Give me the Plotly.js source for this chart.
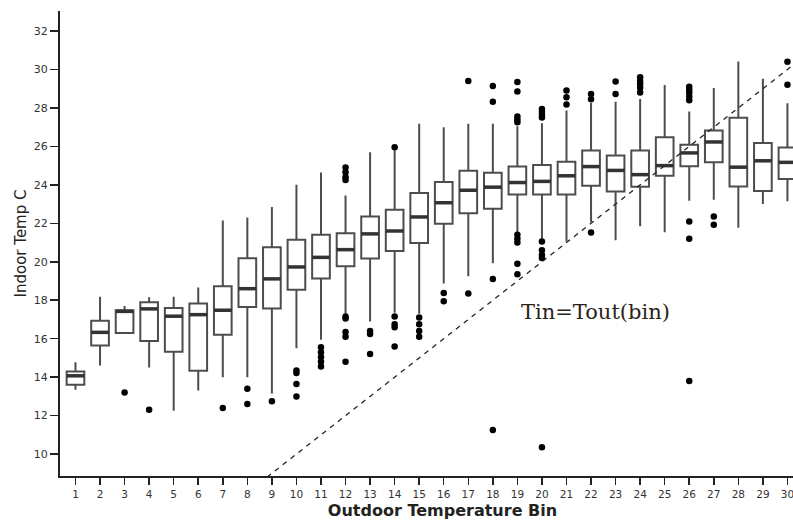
<!DOCTYPE html>
<html>
<head>
<meta charset="utf-8">
<script src="https://cdn.plot.ly/plotly-3.0.1.min.js"></script>
<style>
  html, body { margin: 0; padding: 0; background: #fff; overflow: hidden; }
  #chart { width: 825px; height: 525px; }
</style>
</head>
<body>
<div id="chart"></div>
<script>
// ---- data ----
const bins = [1,2,3,4,5,6,7,8,9,10,11,12,13,14,15,16,17,18,19,20,21,22,23,24,25,26,27,28,29,30];
const lowerFence = [13.35,14.6,16.3,14.5,12.25,13.3,14.0,14.0,13.15,15.5,15.95,17.3,16.9,17.35,17.3,18.87,19.25,19.92,21.55,21.2,21.05,22.05,21.12,21.85,21.53,23.17,23.23,21.77,23.0,23.15];
const q1 = [13.6,15.65,16.3,15.88,15.32,14.33,16.2,17.65,17.57,18.55,19.13,19.77,20.17,20.56,20.98,21.98,22.52,22.76,23.5,23.5,23.5,23.95,23.66,23.9,24.47,24.97,25.17,23.92,23.68,24.3];
const median = [14.07,16.33,17.42,17.55,17.17,17.25,17.48,18.6,19.11,19.73,20.23,20.63,21.45,21.6,22.33,23.07,23.72,23.88,24.12,24.18,24.47,24.95,24.75,24.53,25.0,25.66,26.23,24.92,25.25,25.17];
const q3 = [14.3,16.93,17.48,17.9,17.6,17.83,18.73,20.18,20.75,21.15,21.4,21.48,22.36,22.7,23.58,24.15,24.73,24.63,24.96,25.03,25.2,25.78,25.52,25.78,26.48,26.08,26.83,27.49,26.18,25.94];
const upperFence = [14.78,18.18,17.7,18.16,18.18,18.66,22.15,22.3,22.85,24.0,24.64,23.45,25.7,25.8,27.18,27.0,27.18,27.18,27.05,27.2,27.86,28.25,28.32,28.47,29.19,27.82,29.03,30.42,29.52,28.24];

const outlierBin = [3,4,7,8,8,9,
  10,10,10,10,
  11,11,11,11,11,
  12,12,12,12,12,12,12,12,12,
  13,13,13,
  14,14,14,14,14,
  15,15,15,15,
  16,16,
  17,17,
  18,18,18,18,
  19,19,19,19,19,19,19,19,19,19,
  20,20,20,20,20,20,20,20,20,
  21,21,21,
  22,22,22,
  23,23,
  24,24,24,24,24,
  26,26,26,26,26,26,26,26,
  27,27,
  30,30];
const outlierTemp = [13.2,12.3,12.4,13.4,12.6,12.75,
  14.35,14.22,13.65,13.0,
  15.55,15.3,15.05,14.8,14.55,
  24.9,24.65,24.4,24.25,17.15,17.05,16.35,16.1,14.8,
  16.4,16.25,15.2,
  25.95,17.15,16.75,16.6,15.6,
  17.1,16.75,16.4,16.1,
  18.38,17.95,
  29.4,18.35,
  29.14,28.32,19.1,11.25,
  29.35,28.85,27.55,27.4,27.25,21.4,21.2,21.0,19.9,19.35,
  27.95,27.8,27.65,27.5,21.05,20.6,20.35,20.2,10.35,
  28.9,28.55,28.18,
  28.72,28.45,21.52,
  29.38,28.72,
  29.6,29.4,29.25,29.05,28.8,
  29.1,28.95,28.8,28.6,28.4,22.1,21.2,13.8,
  22.36,21.93,
  30.4,29.2];

// Tin = Tout(bin) reference line endpoints (identity)
const identityLine = [8.8, 31.6];

const yTicks = [10,12,14,16,18,20,22,24,26,28,30,32];
const xTitle = 'Outdoor Temperature Bin';
const yTitle = 'Indoor Temp C';
const noteText = 'Tin=Tout(bin)';
const notePos = {x: 22.2, y: 17.39};

// ---- traces ----
const boxTrace = {
  type: 'box',
  orientation: 'v',
  x: bins,
  q1: q1,
  median: median,
  q3: q3,
  lowerfence: lowerFence,
  upperfence: upperFence,
  boxpoints: false,
  width: 0.72,
  whiskerwidth: 0,
  fillcolor: '#ffffff',
  line: {color: '#4d4d4d', width: 2},
  hoverinfo: 'skip',
  showlegend: false
};

const medianTrace = {
  type: 'scatter',
  mode: 'markers',
  x: bins,
  y: median,
  marker: {symbol: 'line-ew', size: 12.6, color: '#333333', line: {color: '#333333', width: 3.5}},
  hoverinfo: 'skip',
  showlegend: false
};

const outlierTrace = {
  type: 'scatter',
  mode: 'markers',
  x: outlierBin,
  y: outlierTemp,
  marker: {symbol: 'circle', size: 6.5, color: '#000000'},
  hoverinfo: 'skip',
  showlegend: false
};

const lineTrace = {
  type: 'scatter',
  mode: 'lines',
  x: identityLine,
  y: identityLine,
  line: {color: '#222222', width: 1.3, dash: '5px,5px'},
  hoverinfo: 'skip',
  showlegend: false
};

const layout = {
  width: 825,
  height: 525,
  margin: {l: 60, r: 0, t: 11, b: 49},
  paper_bgcolor: '#ffffff',
  plot_bgcolor: '#ffffff',
  showlegend: false,
  font: {family: 'DejaVu Sans, Arial, sans-serif', color: '#222'},
  xaxis: {
    range: [0.369, 31.53],
    tickmode: 'array',
    tickvals: bins,
    ticktext: bins.map(String),
    ticks: 'outside',
    ticklen: 7,
    tickwidth: 1.5,
    tickcolor: '#222',
    showline: true,
    linecolor: '#222',
    linewidth: 2,
    showgrid: false,
    zeroline: false,
    tickfont: {family: 'DejaVu Sans, Arial, sans-serif', size: 10.5, color: '#333'},
    title: {text: xTitle, standoff: 6, font: {family: 'DejaVu Sans, Arial, sans-serif', size: 16, color: '#222', weight: 'bold'}}
  },
  yaxis: {
    range: [8.86, 33.04],
    tickmode: 'array',
    tickvals: yTicks,
    ticktext: yTicks.map(String),
    ticks: 'outside',
    ticklen: 8,
    tickwidth: 1.5,
    tickcolor: '#222',
    showline: true,
    linecolor: '#222',
    linewidth: 2,
    showgrid: false,
    zeroline: false,
    tickfont: {family: 'DejaVu Sans, Arial, sans-serif', size: 11, color: '#333'},
    title: {text: yTitle, standoff: 4, font: {family: 'DejaVu Sans, Arial, sans-serif', size: 15, color: '#222'}}
  },
  annotations: [{
    x: notePos.x, y: notePos.y, xref: 'x', yref: 'y',
    text: noteText, showarrow: false,
    xanchor: 'center', yanchor: 'middle',
    font: {family: 'DejaVu Serif, Liberation Serif, serif', size: 21, color: '#2a2218'}
  }]
};

Plotly.newPlot('chart', [boxTrace, medianTrace, outlierTrace, lineTrace], layout, {displayModeBar: false, staticPlot: true});
</script>
</body>
</html>
